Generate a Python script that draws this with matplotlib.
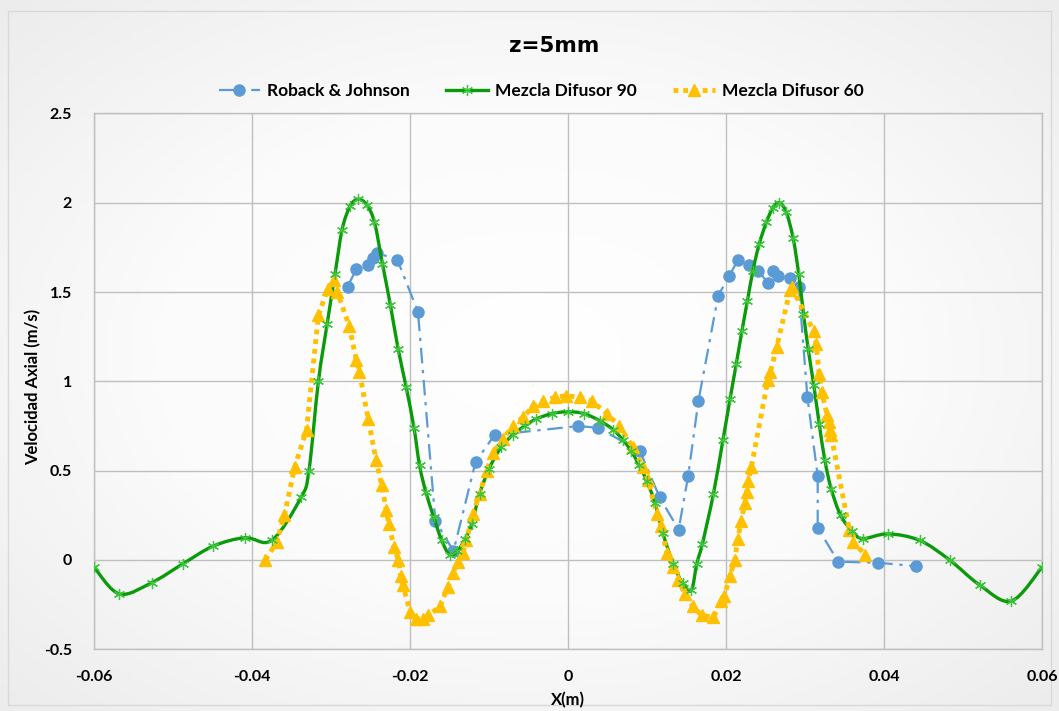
#
# z=5mm axial velocity profile
#

import numpy as np
import matplotlib
matplotlib.use('Agg')
import matplotlib.pyplot as plt
from matplotlib.path import Path
from matplotlib.patches import PathPatch, Rectangle
from matplotlib.lines import Line2D
from matplotlib.colors import LinearSegmentedColormap

plt.rcParams['font.family'] = ['Lato', 'DejaVu Sans']

# Roback & Johnson (experimental)
rj_x = [-0.0279, -0.0268, -0.0253, -0.0247, -0.0242, -0.0216, -0.0190, -0.0168, -0.0145,
        -0.0117, -0.0093, 0.0013, 0.0038, 0.0091, 0.0116, 0.0140, 0.0152, 0.0165, 0.0190,
        0.0204, 0.0215, 0.0229, 0.0241, 0.0253, 0.0259, 0.0266, 0.0281, 0.0292, 0.0303,
        0.0316, 0.0316, 0.0342, 0.0392, 0.0441]
rj_y = [1.53, 1.63, 1.65, 1.69, 1.72, 1.68, 1.39, 0.22, 0.05, 0.55, 0.70, 0.75, 0.74, 0.61,
        0.35, 0.17, 0.47, 0.89, 1.48, 1.59, 1.68, 1.65, 1.62, 1.55, 1.62, 1.59, 1.58, 1.53,
        0.91, 0.47, 0.18, -0.01, -0.015, -0.035]

# Mezcla Difusor 90
d90_x = [-0.0600, -0.0568, -0.0527, -0.0487, -0.0449, -0.0409, -0.0375, -0.0338, -0.0328,
         -0.0316, -0.0305, -0.0295, -0.0286, -0.0276, -0.0266, -0.0255, -0.0245, -0.0235,
         -0.0225, -0.0215, -0.0205, -0.0195, -0.0188, -0.0180, -0.0170, -0.0160, -0.0150,
         -0.0140, -0.0130, -0.0122, -0.0112, -0.0100, -0.0085, -0.0070, -0.0055, -0.0040,
         -0.0020, 0.0000, 0.0020, 0.0040, 0.0057, 0.0070, 0.0080, 0.0090, 0.0100, 0.0110,
         0.0120, 0.0133, 0.0145, 0.0156, 0.0163, 0.0170, 0.0184, 0.0196, 0.0205, 0.0213,
         0.0220, 0.0227, 0.0234, 0.0242, 0.0251, 0.0259, 0.0267, 0.0276, 0.0285, 0.0292,
         0.0298, 0.0304, 0.0311, 0.0318, 0.0325, 0.0333, 0.0345, 0.0360, 0.0373, 0.0405,
         0.0445, 0.0483, 0.0521, 0.0561, 0.0600]
d90_y = [-0.04, -0.19, -0.127, -0.02, 0.078, 0.125, 0.11, 0.35, 0.50,
         1.00, 1.32, 1.60, 1.85, 1.98, 2.02, 1.99, 1.89, 1.66,
         1.43, 1.18, 0.97, 0.74, 0.53, 0.38, 0.24, 0.11, 0.03,
         0.05, 0.12, 0.20, 0.37, 0.51, 0.63, 0.70, 0.75, 0.79,
         0.82, 0.83, 0.82, 0.78, 0.73, 0.67, 0.61, 0.53, 0.44, 0.32,
         0.15, -0.02, -0.13, -0.17, -0.02, 0.09, 0.37, 0.67, 0.90, 1.10,
         1.28, 1.45, 1.62, 1.77, 1.89, 1.97, 2.00, 1.95, 1.80, 1.60,
         1.38, 1.18, 0.98, 0.76, 0.56, 0.40, 0.25, 0.16, 0.12, 0.146,
         0.11, 0.00, -0.14, -0.23, -0.04]

# Mezcla Difusor 60
d60_x = [-0.0383, -0.0369, -0.0359, -0.0346, -0.0331, -0.0316, -0.0304, -0.0296, -0.0292,
         -0.0277, -0.0268, -0.0264, -0.0253, -0.0243, -0.0236, -0.0230, -0.0227, -0.0220,
         -0.0215, -0.0212, -0.0209, -0.0200, -0.0192, -0.0184, -0.0177, -0.0162, -0.0152,
         -0.0146, -0.0139, -0.0133, -0.0129, -0.0120, -0.0112, -0.0103, -0.0095, -0.0082,
         -0.0070, -0.0057, -0.0044, -0.0032, -0.0017, -0.0002, 0.0015, 0.0030, 0.0049,
         0.0065, 0.0082, 0.0095, 0.0101, 0.0112, 0.0118, 0.0125, 0.0133, 0.0139, 0.0148,
         0.0158, 0.0169, 0.0184, 0.0194, 0.0198, 0.0205, 0.0211, 0.0215, 0.0219, 0.0224,
         0.0226, 0.0228, 0.0232, 0.0253, 0.0256, 0.0264, 0.0281, 0.0283, 0.0311, 0.0314,
         0.0318, 0.0321, 0.0328, 0.0330, 0.0332, 0.0333, 0.0356, 0.0361, 0.0376]
d60_y = [0.00, 0.10, 0.25, 0.52, 0.73, 1.37, 1.52, 1.57, 1.50,
         1.31, 1.12, 1.05, 0.79, 0.56, 0.42, 0.28, 0.20, 0.07,
         0.00, -0.09, -0.14, -0.29, -0.33, -0.33, -0.31, -0.26, -0.15,
         -0.075, -0.01, 0.04, 0.11, 0.26, 0.37, 0.50, 0.60, 0.68,
         0.75, 0.80, 0.86, 0.89, 0.91, 0.92, 0.91, 0.89, 0.82,
         0.75, 0.63, 0.52, 0.45, 0.26, 0.19, 0.04, -0.04, -0.11, -0.19,
         -0.26, -0.31, -0.32, -0.23, -0.20, -0.09, 0.00, 0.12, 0.22, 0.32,
         0.38, 0.44, 0.52, 1.01, 1.05, 1.19, 1.51, 1.53, 1.28, 1.21,
         1.04, 0.94, 0.81, 0.77, 0.73, 0.70, 0.17, 0.10, 0.03]

x_ticks = [-0.06, -0.04, -0.02, 0, 0.02, 0.04, 0.06]
x_labels = ['-0.06', '-0.04', '-0.02', '0', '0.02', '0.04', '0.06']
y_ticks = [-0.5, 0, 0.5, 1, 1.5, 2, 2.5]
y_labels = ['-0.5', '0', '0.5', '1', '1.5', '2', '2.5']

BLUE = '#5B9BD5'
GREEN = '#0A9A0A'
GREEN_MK = '#3CC43C'
YELLOW = '#FFC000'
STAR = (6, 2, 0)
BLUE_DASH = (0, (7, 3, 1.5, 3))


# smooth line like excel, bezier segments through the data points
def smooth_path(xs, ys):
    pts = np.column_stack([xs, ys])
    n = len(pts)
    verts = [pts[0]]
    codes = [Path.MOVETO]
    for i in range(n - 1):
        p0 = pts[i - 1] if i > 0 else pts[i]
        p1 = pts[i]
        p2 = pts[i + 1]
        p3 = pts[i + 2] if i + 2 < n else pts[i + 1]
        verts += [p1 + (p2 - p0) / 6.0, p2 - (p3 - p1) / 6.0, p2]
        codes += [Path.CURVE4] * 3
    return Path(verts, codes)


fig = plt.figure(figsize=(10.59, 7.11), dpi=100)

# soft background gradient
bg = fig.add_axes([0, 0, 1, 1], zorder=-10)
gx, gy = np.meshgrid(np.linspace(-1, 1, 300), np.linspace(-1, 1, 200))
grad = np.sqrt(gx ** 2 + gy ** 2) / np.sqrt(2)
cmap = LinearSegmentedColormap.from_list('bg', ['#ffffff', '#fbfbfb', '#ececec'])
bg.imshow(grad, cmap=cmap, aspect='auto', extent=[0, 1, 0, 1], vmin=0, vmax=1)
bg.add_patch(Rectangle((0.008, 0.008), 0.984, 0.976, fill=False, edgecolor='#d9d9d9', lw=1))
bg.set_xlim(0, 1)
bg.set_ylim(0, 1)
bg.axis('off')

ax = fig.add_axes([0.0888, 0.0868, 0.8952, 0.7536])
ax.set_facecolor('none')

ax.plot(rj_x, rj_y, color=BLUE, lw=1.6, linestyle=BLUE_DASH, marker='o',
        markersize=8, markerfacecolor=BLUE, markeredgecolor=BLUE, zorder=3)

ax.add_patch(PathPatch(smooth_path(d90_x, d90_y), facecolor='none', edgecolor=GREEN,
                       lw=2.4, zorder=4))
ax.plot(d90_x, d90_y, linestyle='none', marker=STAR, markersize=8,
        markeredgecolor=GREEN_MK, markeredgewidth=0.9, zorder=5)

ax.plot(d60_x, d60_y, color=YELLOW, lw=3.5, linestyle=(0, (1, 1)), dash_capstyle='butt',
        marker='^', markersize=9, markerfacecolor=YELLOW, markeredgecolor=YELLOW, zorder=4)

ax.set_xlim(-0.06, 0.06)
ax.set_ylim(-0.5, 2.5)
ax.set_xticks(x_ticks)
ax.set_xticklabels(x_labels)
ax.set_yticks(y_ticks)
ax.set_yticklabels(y_labels)
ax.tick_params(length=0, labelsize=11.5, colors='black')
ax.tick_params(axis='x', pad=15)
ax.tick_params(axis='y', pad=16)
for lbl in ax.get_xticklabels() + ax.get_yticklabels():
    lbl.set_fontweight('bold')
ax.grid(True, color='#bfbfbf', lw=1)
for s in ax.spines.values():
    s.set_color('#bfbfbf')
    s.set_linewidth(1)

ax.set_xlabel('X(m)', fontsize=12, fontweight='bold')
ax.xaxis.set_label_coords(0.5, -0.08)
ax.set_ylabel('Velocidad Axial (m/s)', fontsize=12, fontweight='bold')
ax.yaxis.set_label_coords(-0.056, 0.49)

fig.text(0.523, 0.935, 'z=5mm', ha='center', va='center', fontsize=15.5,
         fontweight='bold', family=['DejaVu Sans'])

handles = [
    Line2D([], [], color=BLUE, lw=1.6, linestyle=BLUE_DASH, marker='o', markersize=8),
    Line2D([], [], color=GREEN, lw=2.4, marker=STAR, markersize=8,
           markeredgecolor=GREEN_MK, markeredgewidth=0.9),
    Line2D([], [], color=YELLOW, lw=3.5, linestyle=(0, (1, 1)), marker='^', markersize=9),
]
leg = fig.legend(handles, ['Roback & Johnson', 'Mezcla Difusor 90', 'Mezcla Difusor 60'],
                 loc='center', bbox_to_anchor=(0.511, 1 - 91 / 711), ncol=3, frameon=False,
                 handlelength=2.4, columnspacing=2.1, handletextpad=0.4,
                 prop={'weight': 'bold', 'size': 12.5})

fig.savefig('out.png', dpi=100)
